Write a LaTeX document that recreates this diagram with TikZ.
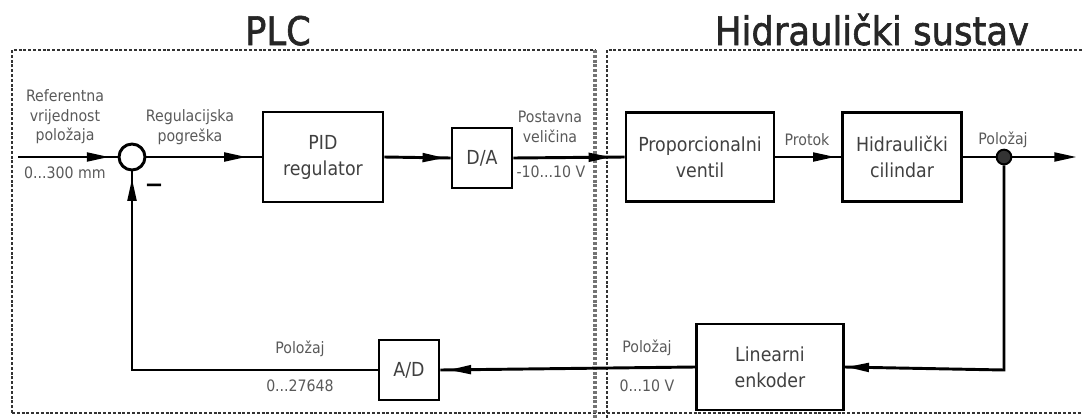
\documentclass[tikz,border=0pt]{standalone}
\usepackage{fontspec}
\setmainfont{DejaVu Sans Condensed}
\newfontfamily\titlefont[FakeBold=1.5]{DejaVu Sans Condensed}
\newfontfamily\minusfont{DejaVu Sans Bold}
\usetikzlibrary{arrows.meta,decorations.markings}
\begin{document}
\begin{tikzpicture}[x=0.75pt,y=-0.75pt,
  frame/.style={draw=black!80, line width=1.6pt, dash pattern=on 2.2pt off 1.4pt},
  sepline/.style={draw=black!55, line width=3pt, dash pattern=on 2.2pt off 1.4pt},
  blk/.style={draw, line width=2.2pt, font=\fontsize{14.5}{19.5}\selectfont, text=black!75, align=center, inner sep=0pt},
  lbl/.style={font=\fontsize{11.8}{14.6}\selectfont, text=black!65, align=center, inner sep=0pt},
  ttl/.style={font=\titlefont\fontsize{29.5}{30}\selectfont, text=black!85, inner sep=0pt, anchor=base},
  conn/.style={line width=2.2pt},
  arr/.style={postaction={decorate}, decoration={markings, mark=at position #1 with {\arrow{Triangle[length=17pt,width=6.5pt]}}}},
  endarr/.style={-{Triangle[length=17pt,width=6.5pt]}}]
\useasboundingbox (0,0) rectangle (1082,418);
% titles
\node[ttl] (tplc) at (278,45) {PLC};
\node[ttl] (thyd) at (872,45) {Hidraulički sustav};
% frames
\draw[frame] (12,413) -- (12,50) -- (595,50);
\draw[frame] (12,413) -- (1082,413);
\draw[sepline] (595,50) -- (595,418);
\draw[frame] (607,418) -- (607,50) -- (1082,50);
% blocks
\node[circle, draw, line width=2.2pt, minimum size=19.5pt, inner sep=0pt] (sum) at (132,157) {};
\node[blk, minimum width=90pt, minimum height=67.5pt] (pid) at (323,157) {PID\\regulator};
\node[blk, minimum width=45pt, minimum height=45pt] (da) at (482,158) {D/A};
\node[blk, minimum width=111pt, minimum height=66.75pt] (ventil) at (700,157) {Proporcionalni\\ventil};
\node[blk, minimum width=89.25pt, minimum height=66.75pt] (cyl) at (902,157) {Hidraulički\\cilindar};
\node[circle, draw, line width=1.5pt, fill=black!80, inner sep=0pt, minimum size=11pt] (jn) at (1004,157) {};
\node[blk, minimum width=110.25pt, minimum height=64.5pt] (enc) at (770,367) {Linearni\\enkoder};
\node[blk, minimum width=45pt, minimum height=45pt] (ad) at (409,370) {A/D};
\coordinate (in) at (18,157);
\coordinate (out) at (1077,157);
\coordinate (fbR) at (1004,370);
\coordinate (fbL) at (132,370);
% connectors
\draw[conn, arr=-6pt] (in) -- (sum.west);
\draw[conn, arr=-11pt] (sum.east) -- (pid.west);
\draw[conn, arr=-4pt] (pid.east) -- (da.west);
\draw[conn, arr=-10pt] (da.east) -- (ventil.west);
\draw[conn, arr=-4pt] (ventil.east) -- (cyl.west);
\draw[conn] (cyl.east) -- (jn);
\draw[conn, endarr] (jn) -- (out);
\draw[conn, arr=-1pt] (jn) -- (fbR) -- (enc.east);
\draw[conn, arr=-6pt] (enc.west) -- (ad.east);
\draw[conn, arr=-5pt] (ad.west) -- (fbL) -- (sum.south);
% labels
\node[lbl] (lref) at (65,117) {Referentna\\vrijednost\\položaja};
\node[lbl] (lrange) at (65,173) {0...300 mm};
\node[lbl] (lerr) at (190,127) {Regulacijska\\pogreška};
\node[font=\minusfont\fontsize{17}{17}\selectfont, inner sep=0pt] (minus) at (154,188) {\char"2212};
\node[lbl] (lset) at (550,127) {Postavna\\veličina};
\node[lbl] (lvolt) at (551,172) {-10...10 V};
\node[lbl] (lflow) at (807,140) {Protok};
\node[lbl] (lpos) at (1003,140) {Položaj};
\node[lbl] (lposad) at (300,349) {Položaj};
\node[lbl] (lcnt) at (300,386) {0...27648};
\node[lbl] (lposenc) at (647,348) {Položaj};
\node[lbl] (lv) at (647,386) {0...10 V};
\end{tikzpicture}
\end{document}
